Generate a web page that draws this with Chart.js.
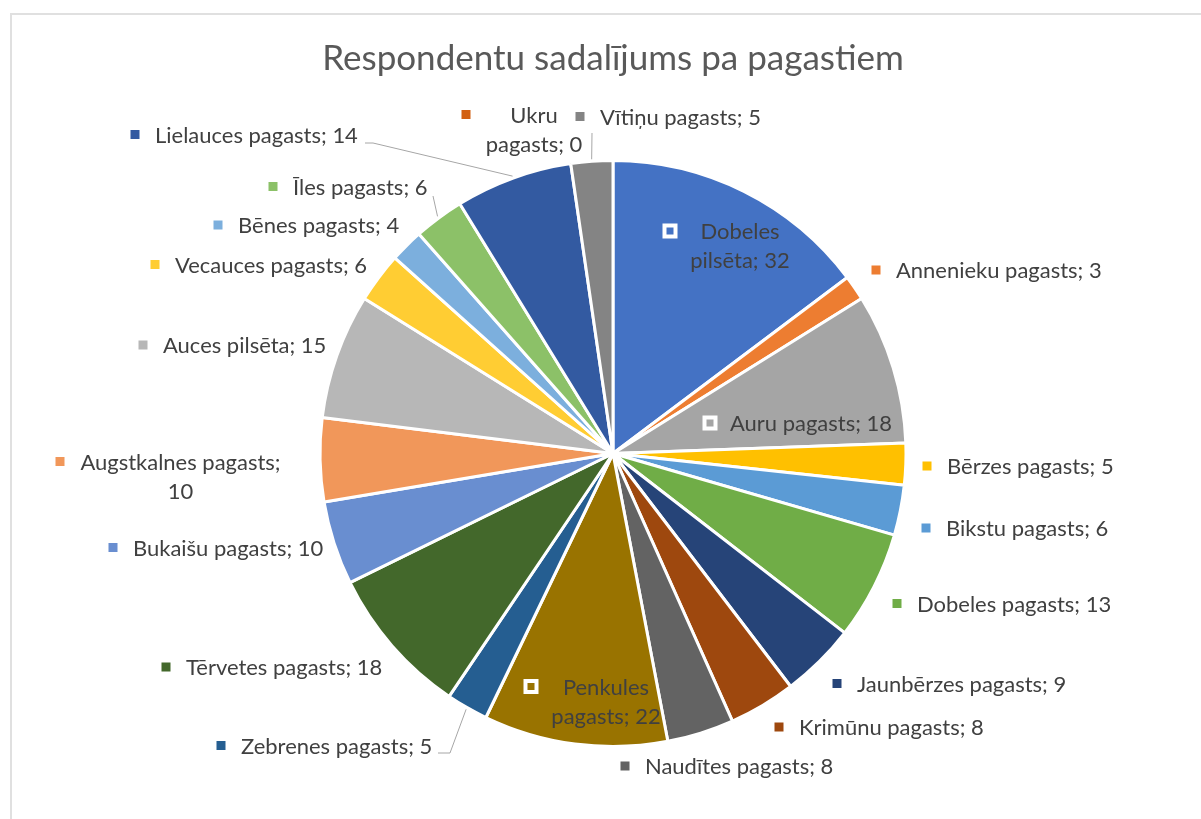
<!DOCTYPE html>
<html lang="lv">
<head>
  <meta charset="UTF-8" />
  <title>Respondentu sadalījums pa pagastiem</title>
  <script src="https://cdn.jsdelivr.net/npm/chart.js"></script>
  <style>
    html, body {
      margin: 0;
      padding: 0;
      background: #fff;
      overflow: hidden;
    }
    .frame {
      position: absolute;
      left: 10px;
      top: 13px;
      width: 1400px;
      height: 1000px;
      border: 2px solid #e0e0e0;
    }
    #chart {
      position: absolute;
      left: 0;
      top: 0;
    }
  </style>
</head>
<body>
  <div class="frame"></div>
  <canvas id="chart" width="1201" height="819"></canvas>

  <script>
    const title = "Respondentu sadalījums pa pagastiem";

    const categories = [
      "Dobeles pilsēta", "Annenieku pagasts", "Auru pagasts", "Bērzes pagasts",
      "Bikstu pagasts", "Dobeles pagasts", "Jaunbērzes pagasts", "Krimūnu pagasts",
      "Naudītes pagasts", "Penkules pagasts", "Zebrenes pagasts", "Tērvetes pagasts",
      "Bukaišu pagasts", "Augstkalnes pagasts", "Auces pilsēta", "Vecauces pagasts",
      "Bēnes pagasts", "Īles pagasts", "Lielauces pagasts", "Ukru pagasts", "Vītiņu pagasts"
    ];
    const values = [32, 3, 18, 5, 6, 13, 9, 8, 8, 22, 5, 18, 10, 10, 15, 6, 4, 6, 14, 0, 5];

    const colors = [
      "#4472C4", "#ED7D31", "#A5A5A5", "#FFC000", "#5B9BD5", "#70AD47",
      "#264478", "#9E480E", "#636363", "#997300", "#255E91", "#43682B",
      "#698ED0", "#F1975A", "#B7B7B7", "#FFCD33", "#7CAFDD", "#8CC168",
      "#335AA1", "#D26012", "#848484"
    ];

    // label placement, px offsets from the pie centre (marker centre)
    // wrap: where the label breaks onto a second line, cx: centre of wrapped text
    const labelLayout = [
      { m: [57, -222.5], wrap: "name", cx: 127, hollow: true },
      { m: [263, -183.5] },
      { m: [97, -30.5], hollow: true },
      { m: [314, 12.5] },
      { m: [313, 74.5] },
      { m: [284, 150] },
      { m: [224, 230] },
      { m: [166, 273.5] },
      { m: [12, 312.5] },
      { m: [-82, 233], wrap: "name", cx: -7, hollow: true },
      { m: [-392, 292] },
      { m: [-447, 213.5] },
      { m: [-500, 94] },
      { m: [-553, 8], wrap: "value", cx: -432.5 },
      { m: [-470, -108.5] },
      { m: [-458, -189] },
      { m: [-395, -228.5] },
      { m: [-340, -267] },
      { m: [-478, -319] },
      { m: [-147, -339], wrap: "name", cx: -79 },
      { m: [-33, -337] }
    ];

    // leader lines: points near the label, the line then runs to the slice edge
    const leaders = {
      10: [[-175, 299.5], [-163, 299.5]],
      17: [[-180, -257.5]],
      18: [[-248, -310.5], [-240, -310.5]],
      20: [[-21, -320.5]]
    };

    const FONT = "Lato";
    const TEXT_COLOR = "#404040";
    const LINE_GAP = 29;

    function fitSize(text, width, weight) {
      const c = document.createElement("canvas").getContext("2d");
      c.font = weight + " 100px " + FONT;
      return 100 * width / c.measureText(text).width;
    }

    function splitLabel(i) {
      const name = categories[i];
      const full = name + "; " + values[i];
      const wrap = labelLayout[i].wrap;
      if (wrap === "name") {
        const sp = name.indexOf(" ");
        return [name.slice(0, sp), name.slice(sp + 1) + "; " + values[i]];
      }
      if (wrap === "value") return [name + ";", String(values[i])];
      return [full];
    }

    const sliceLabels = {
      id: "sliceLabels",
      afterDatasetsDraw(chart, args, opts) {
        const ctx = chart.ctx;
        const arcs = chart.getDatasetMeta(0).data;
        const cx = arcs[0].x, cy = arcs[0].y;
        ctx.save();

        // leader lines
        ctx.strokeStyle = "#A6A6A6";
        ctx.lineWidth = 1;
        Object.keys(leaders).forEach(k => {
          const arc = arcs[k];
          const mid = (arc.startAngle + arc.endAngle) / 2;
          const r = arc.outerRadius + 2;
          ctx.beginPath();
          leaders[k].forEach((p, j) => {
            if (j === 0) ctx.moveTo(cx + p[0], cy + p[1]);
            else ctx.lineTo(cx + p[0], cy + p[1]);
          });
          ctx.lineTo(cx + Math.cos(mid) * r, cy + Math.sin(mid) * r);
          ctx.stroke();
        });

        ctx.font = opts.size + "px " + FONT;
        ctx.textBaseline = "middle";
        ctx.fillStyle = TEXT_COLOR;

        labelLayout.forEach((lay, i) => {
          const mx = cx + lay.m[0], my = cy + lay.m[1];
          if (lay.hollow) {
            ctx.fillStyle = "#fff";
            ctx.fillRect(mx - 7.5, my - 7.5, 15, 15);
            ctx.fillStyle = colors[i];
            ctx.fillRect(mx - 3.5, my - 3.5, 7, 7);
          } else {
            ctx.fillStyle = colors[i];
            ctx.fillRect(mx - 4.5, my - 4.5, 9, 9);
          }
          ctx.fillStyle = TEXT_COLOR;
          const lines = splitLabel(i);
          if (lines.length === 1) {
            ctx.textAlign = "left";
            ctx.fillText(lines[0], mx + 20, my + 1);
          } else {
            ctx.textAlign = "center";
            lines.forEach((t, j) => ctx.fillText(t, cx + lay.cx, my + 1 + j * LINE_GAP));
          }
        });
        ctx.restore();
      }
    };

    function draw() {
      const labelSize = fitSize("Lielauces pagasts; 14", 203, "normal");
      const titleSize = fitSize(title, 582, "normal");
      const titleTop = 38;

      new Chart(document.getElementById("chart"), {
        type: "pie",
        data: {
          labels: categories,
          datasets: [{
            data: values,
            backgroundColor: colors,
            borderColor: "#ffffff",
            borderWidth: 3
          }]
        },
        options: {
          responsive: false,
          animation: false,
          rotation: 0,
          layout: {
            padding: { left: 318.5, right: 293.5, top: 0, bottom: 71 }
          },
          plugins: {
            legend: { display: false },
            tooltip: { enabled: false },
            title: {
              display: true,
              text: title,
              color: "#595959",
              font: { family: FONT, size: titleSize, weight: "normal", lineHeight: 1.2 },
              padding: { top: titleTop, bottom: 159 - titleTop - titleSize * 1.2 }
            },
            sliceLabels: { size: labelSize }
          }
        },
        plugins: [sliceLabels]
      });
    }

    document.fonts.load("20px " + FONT).then(draw, draw);
  </script>
</body>
</html>
